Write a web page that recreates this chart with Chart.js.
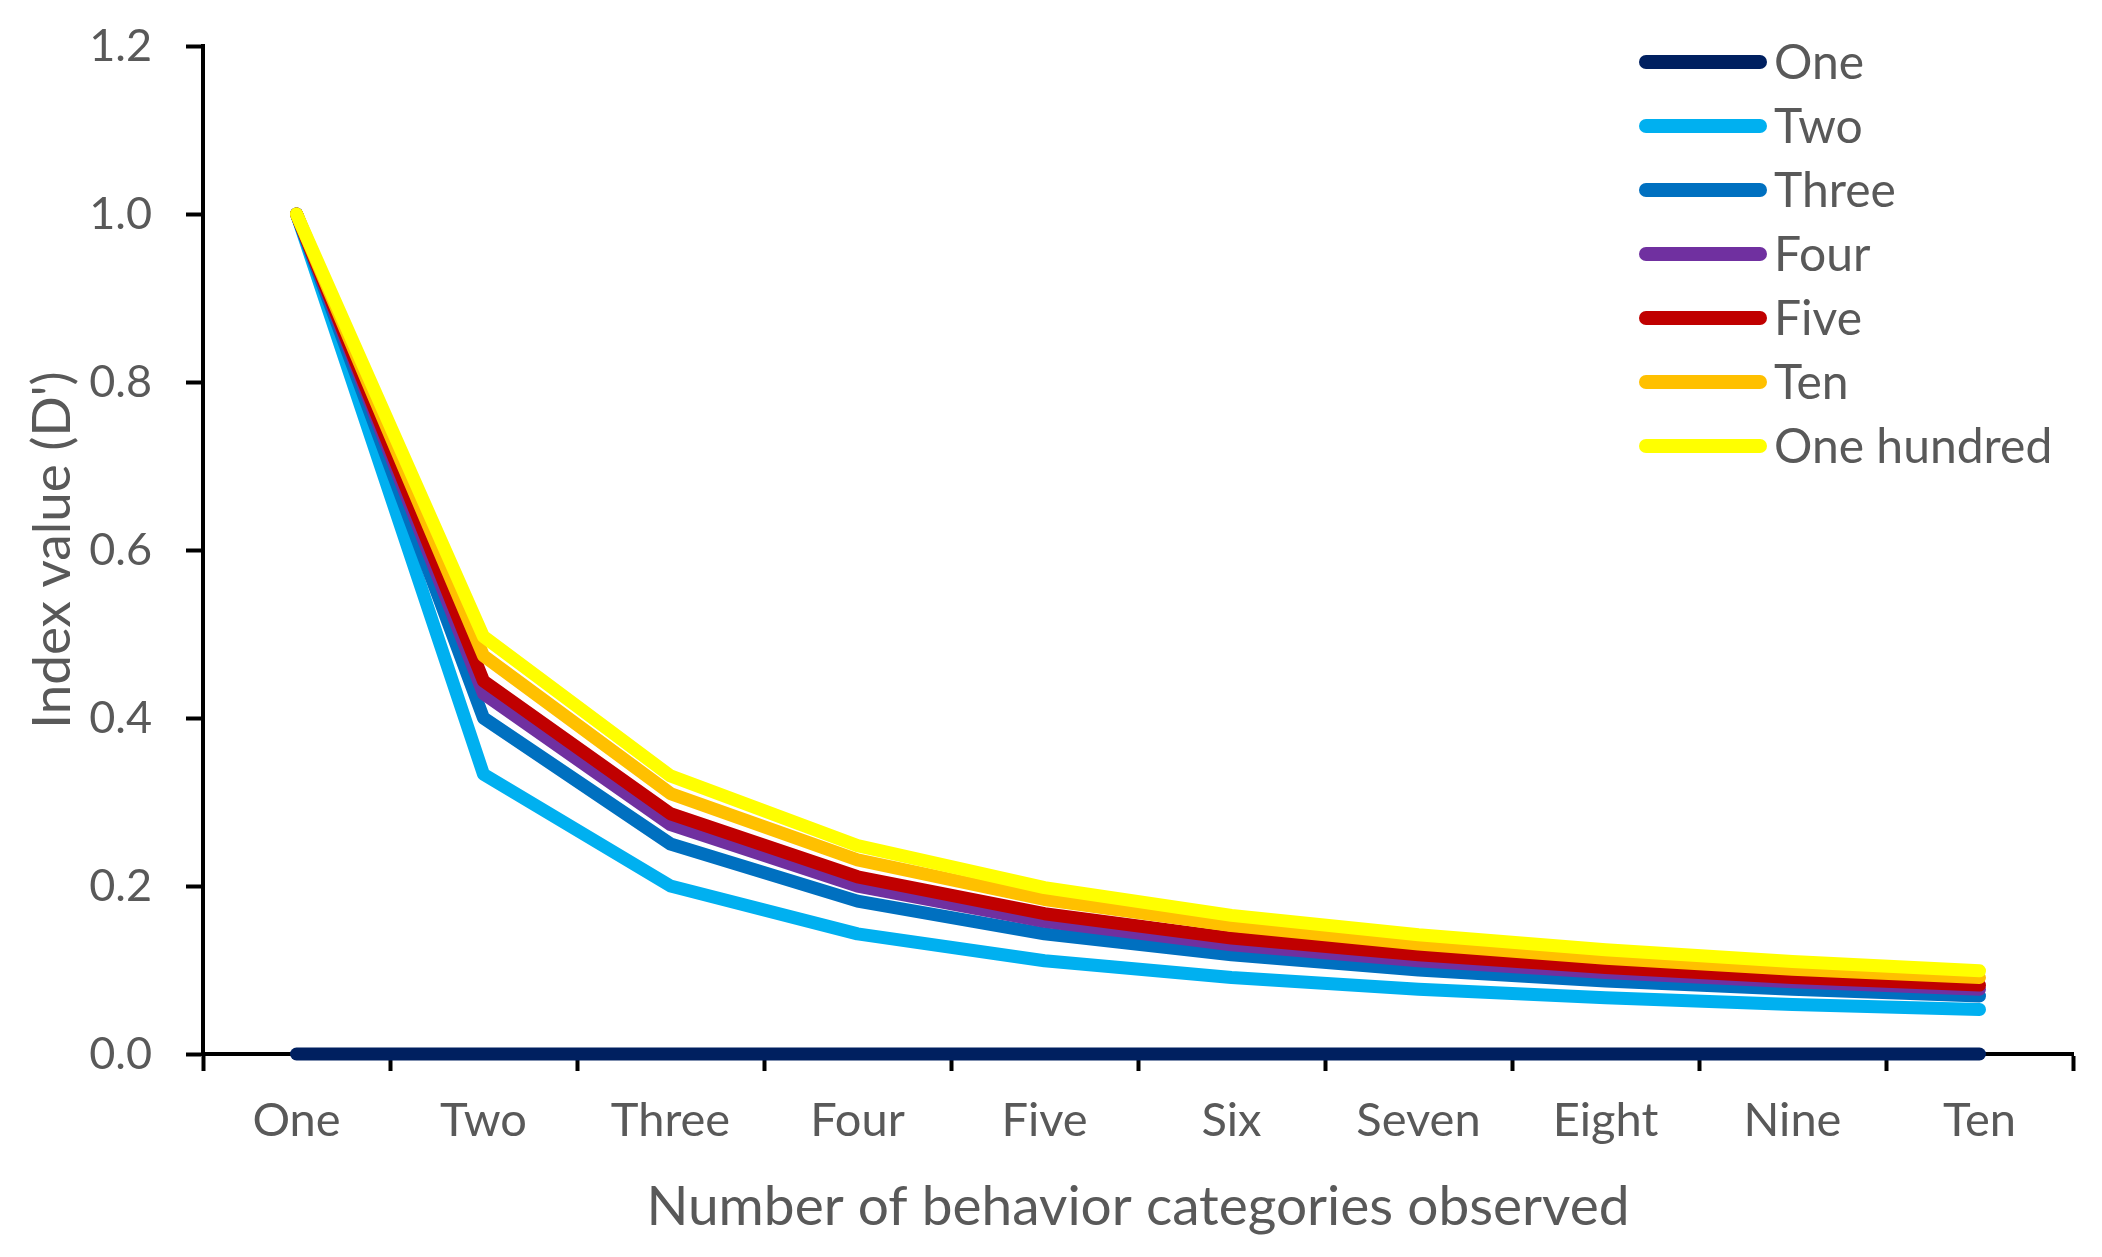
<!DOCTYPE html>
<html>
<head>
<meta charset="utf-8">
<script src="https://cdn.jsdelivr.net/npm/chart.js@4/dist/chart.umd.min.js"></script>
<style>
	html, body { margin: 0; padding: 0; background: #fff; }
	#wrap { width: 2102px; height: 1257px; position: relative; }
</style>
</head>
<body>
<div id="wrap"><canvas id="chart"></canvas></div>
<script>
	// categories on the x axis
	const categories = ["One", "Two", "Three", "Four", "Five", "Six", "Seven", "Eight", "Nine", "Ten"];

	// series
	const seriesOne = [0, 0, 0, 0, 0, 0, 0, 0, 0, 0];
	const seriesTwo = [1, 0.333, 0.2, 0.143, 0.111, 0.091, 0.077, 0.067, 0.059, 0.053];
	const seriesThree = [1, 0.4, 0.25, 0.182, 0.143, 0.118, 0.1, 0.087, 0.077, 0.069];
	const seriesFour = [1, 0.429, 0.273, 0.2, 0.158, 0.13, 0.111, 0.097, 0.086, 0.077];
	const seriesFive = [1, 0.444, 0.286, 0.211, 0.167, 0.138, 0.118, 0.103, 0.091, 0.082];
	const seriesTen = [1, 0.474, 0.31, 0.231, 0.184, 0.153, 0.131, 0.114, 0.101, 0.091];
	const seriesHundred = [1, 0.497, 0.331, 0.248, 0.198, 0.165, 0.142, 0.124, 0.11, 0.099];

	const seriesLabels = ["One", "Two", "Three", "Four", "Five", "Ten", "One hundred"];
	const seriesData = [seriesOne, seriesTwo, seriesThree, seriesFour, seriesFive, seriesTen, seriesHundred];
	const seriesColors = ["#002060", "#00B0F0", "#0070C0", "#7030A0", "#C00000", "#FFC000", "#FFFF00"];

	// y axis ticks
	const yMin = 0;
	const yMax = 1.2;
	const yStep = 0.2;

	const textColor = "#595959";
	const fontFamily = "Lato, 'Open Sans', sans-serif";

	// legend drawn inside the plot, top right
	const insideLegend = {
		id: "insideLegend",
		afterDraw(chart) {
			const ctx = chart.ctx;
			const x0 = 1646, x1 = 1760, textX = 1774;
			const top = 62, step = 64;
			ctx.save();
			ctx.font = "48px " + fontFamily;
			ctx.textBaseline = "alphabetic";
			ctx.textAlign = "left";
			chart.data.datasets.forEach((ds, i) => {
				const y = top + i * step;
				ctx.strokeStyle = ds.borderColor;
				ctx.lineWidth = 14;
				ctx.lineCap = "round";
				ctx.beginPath();
				ctx.moveTo(x0, y);
				ctx.lineTo(x1, y);
				ctx.stroke();
				ctx.fillStyle = textColor;
				ctx.fillText(ds.label, textX, y + 17);
			});
			ctx.restore();
		},
	};

	const datasets = seriesLabels.map((label, i) => ({
		label: label,
		data: seriesData[i],
		borderColor: seriesColors[i],
		backgroundColor: seriesColors[i],
		borderWidth: 13,
		borderCapStyle: "round",
		borderJoinStyle: "round",
		pointRadius: 0,
		pointHoverRadius: 0,
		tension: 0,
		fill: false,
		clip: false,
		order: seriesLabels.length - 1 - i,
	}));

	const ctx = document.getElementById("chart");
	const chart = new Chart(ctx, {
		type: "line",
		data: {
			labels: categories,
			datasets: datasets,
		},
		options: {
			responsive: true,
			maintainAspectRatio: false,
			animation: false,
			devicePixelRatio: 1,
			layout: {
				padding: { left: 0, right: 29, top: 46, bottom: 0 },
			},
			plugins: {
				legend: { display: false },
				tooltip: { enabled: false },
			},
			scales: {
				x: {
					type: "category",
					offset: true,
					afterFit: (scale) => {
						scale.height = 203;
					},
					border: { display: true, color: "#000", width: 4 },
					grid: {
						display: true,
						offset: true,
						drawOnChartArea: false,
						drawTicks: true,
						tickLength: 17,
						tickWidth: 4,
						color: "#000",
					},
					ticks: {
						color: textColor,
						font: { family: fontFamily, size: 47 },
						padding: 22,
						maxRotation: 0,
						autoSkip: false,
					},
					title: {
						display: true,
						text: "Number of behavior categories observed",
						color: textColor,
						font: { family: fontFamily, size: 55 },
						padding: { top: 0, bottom: 17 },
					},
				},
				y: {
					min: yMin,
					max: yMax,
					afterFit: (scale) => {
						scale.width = 203;
						// the label padding would otherwise push the plot top down
						scale.paddingTop = 0;
						scale.paddingBottom = 0;
					},
					border: { display: true, color: "#000", width: 4 },
					grid: {
						display: true,
						drawOnChartArea: false,
						drawTicks: true,
						tickLength: 17,
						tickWidth: 4,
						color: "#000",
					},
					ticks: {
						stepSize: yStep,
						color: textColor,
						font: { family: fontFamily, size: 45 },
						padding: 34,
						callback: (value) => Number(value).toFixed(1),
					},
					title: {
						display: true,
						text: "Index value (D')",
						color: textColor,
						font: { family: fontFamily, size: 53 },
						padding: { top: 21, bottom: 0 },
					},
				},
			},
		},
		plugins: [insideLegend],
	});
</script>
</body>
</html>
